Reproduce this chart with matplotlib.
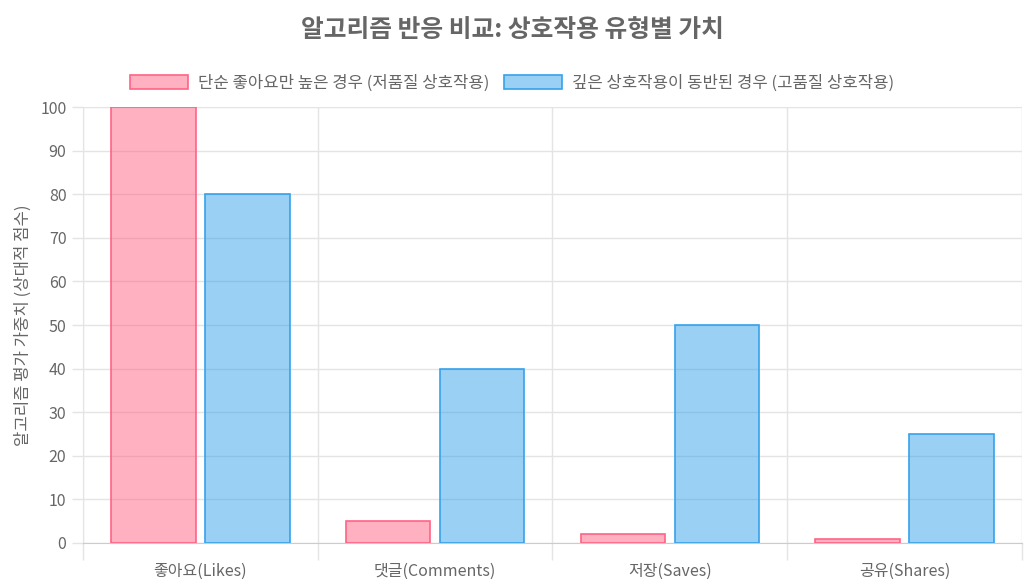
import numpy as np
import matplotlib.pyplot as plt
from matplotlib.patches import Patch

plt.rcParams['font.family'] = ['Noto Sans CJK KR', 'DejaVu Sans']

# 데이터
categories = ['좋아요(Likes)', '댓글(Comments)', '저장(Saves)', '공유(Shares)']
low_quality = [100, 5, 2, 1]
high_quality = [80, 40, 50, 25]
label_low = '단순 좋아요만 높은 경우 (저품질 상호작용)'
label_high = '깊은 상호작용이 동반된 경우 (고품질 상호작용)'

pink_fill = (1.0, 99/255, 132/255, 0.5)
pink_edge = (1.0, 99/255, 132/255, 1.0)
blue_fill = (54/255, 162/255, 235/255, 0.5)
blue_edge = (54/255, 162/255, 235/255, 1.0)
text_col = '#666666'
grid_col = '#e4e4e4'

fig = plt.figure(figsize=(10.24, 5.85), dpi=100)
ax = fig.add_axes([0.0811, 0.0718, 0.9169, 0.7452])

x = np.arange(len(categories)) + 0.5
w = 0.8 / 2 * 0.9
off = 0.8 / 4

ax.bar(x - off, low_quality, width=w, color=pink_fill, edgecolor=pink_edge, linewidth=1.2, zorder=3)
ax.bar(x + off, high_quality, width=w, color=blue_fill, edgecolor=blue_edge, linewidth=1.2, zorder=3)

ax.set_xlim(0, len(categories))
ax.set_ylim(0, 100)
ax.set_yticks(range(0, 101, 10))
ax.set_xticks(range(0, len(categories) + 1))
ax.set_xticklabels([])
ax.set_xticks(x, minor=True)
ax.set_xticklabels(categories, minor=True)

ax.tick_params(axis='x', which='major', length=12, color=grid_col, width=1)
ax.tick_params(axis='x', which='minor', length=0, pad=14, labelsize=11.5, labelcolor=text_col)
ax.tick_params(axis='y', length=8, color=grid_col, width=1, pad=4, labelsize=11.5, labelcolor=text_col)

ax.grid(True, which='major', color=grid_col, linewidth=1, zorder=0)
ax.set_axisbelow(True)
for s in ['top', 'right']:
    ax.spines[s].set_visible(False)
ax.spines['left'].set_color(grid_col)
ax.spines['bottom'].set_color('#cccccc')

ax.set_ylabel('알고리즘 평가 가중치 (상대적 점수)', fontsize=12, color=text_col, labelpad=6)

fig.suptitle('알고리즘 반응 비교: 상호작용 유형별 가치', fontsize=17.8, fontweight='bold',
             color=text_col, y=0.948, va='center')

handles = [Patch(facecolor=pink_fill, edgecolor=pink_edge, linewidth=1.2, label=label_low),
           Patch(facecolor=blue_fill, edgecolor=blue_edge, linewidth=1.2, label=label_high)]
leg = fig.legend(handles=handles, loc='center', bbox_to_anchor=(0.5, 0.858), ncol=2,
                 frameon=False, fontsize=12, handlelength=3.5, handleheight=0.95,
                 handletextpad=0.6, columnspacing=0.85)
for t in leg.get_texts():
    t.set_color(text_col)

fig.savefig('out.png', dpi=100)
